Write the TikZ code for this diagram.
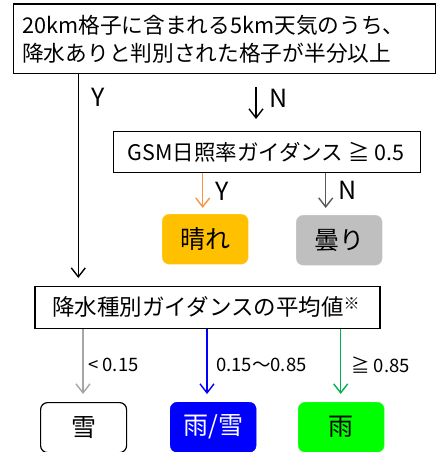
\documentclass[tikz,border=0pt]{standalone}
\usepackage{fontspec}
\setmainfont{Noto Sans CJK JP}
\usetikzlibrary{arrows.meta}
\definecolor{orangeA}{HTML}{F79646}
\definecolor{sunny}{HTML}{FFC000}
\definecolor{cloudy}{HTML}{BFBFBF}
\definecolor{darkgr}{HTML}{595959}
\definecolor{lightgr}{HTML}{A6A6A6}
\definecolor{greenA}{HTML}{00B050}
\definecolor{rainG}{HTML}{00FF00}
\tikzset{
  box/.style={draw=black, line width=1.2pt, fill=white, inner sep=0pt},
  res/.style={rounded corners=7pt, inner sep=0pt, minimum width=86pt, minimum height=50pt, font=\fontsize{25}{27}\selectfont},
  arr/.style={line width=1.4pt, -{Straight Barb[length=9pt,width=14pt,line width=1.4pt]}},
  yn/.style={font=\fontsize{25}{26}\selectfont, anchor=west, inner sep=0pt},
  thr/.style={font=\fontsize{18.5}{20}\selectfont, anchor=west, inner sep=0pt},
}
\begin{document}
\begin{tikzpicture}[x=1pt,y=-1pt]
\useasboundingbox (0,0) rectangle (437,452);
% top box
\node[box, minimum width=422pt, minimum height=69pt, anchor=north west] (top) at (12.7,3.5) {};
\node[anchor=west, inner sep=0pt, align=left, font=\fontsize{21.7}{28}\selectfont] (toptext) at (22,39) {20km格子に含まれる5km天気のうち、\\降水ありと判別された格子が半分以上};
% GSM box
\node[box, minimum width=307pt, minimum height=41pt, anchor=north west] (gsm) at (113,131) {};
\node[font=\fontsize{21.5}{22}\selectfont, inner sep=0pt] (gsmtext) at (266,152) {GSM日照率ガイダンス ≧ 0.5};
% results
\node[res, fill=sunny, draw=sunny!70!white, anchor=north west] (hare) at (162,214) {晴れ};
\node[res, fill=cloudy, draw=cloudy!70!white, anchor=north west] (kumori) at (296,215) {曇り};
% bottom box
\node[box, minimum width=345pt, minimum height=42pt, anchor=north west] (avg) at (34.3,286) {};
\node[font=\fontsize{22.5}{24}\selectfont, inner sep=0pt] (avgtext) at (206,307) {降水種別ガイダンスの平均値\raisebox{6pt}{\fontsize{16}{17}\selectfont ※}};
% bottom results
\node[res, draw=black, line width=1.2pt, fill=white, anchor=north west] (yuki) at (40,402) {雪};
\node[res, fill=blue, draw=blue, text=white, anchor=north west] (ameyuki) at (170,402) {雨/雪};
\node[res, fill=rainG, draw=rainG!80!white, anchor=north west] (ame) at (298,402) {雨};
% coordinates for arrows
\coordinate (yEnd) at (78.3,278);
\coordinate (nStart) at (256,87);
\coordinate (nEnd) at (256,119);
\coordinate (hY) at (202.7,208);
\coordinate (kN) at (325.7,208);
\coordinate (e1) at (83,394);
\coordinate (e2) at (207,394);
\coordinate (e3) at (340.7,394);
% arrows
\draw[arr, line width=1.3pt] (top.south -| yEnd) -- (yEnd);
\node[yn] (Y1) at (91,97) {Y};
\draw[arr, line width=1.3pt] (nStart) -- (nEnd);
\node[yn] (N1) at (269,98) {N};
\draw[arr, orangeA] (gsm.south -| hY) -- (hY);
\node[yn] (Y2) at (215,191) {Y};
\draw[arr, darkgr] (gsm.south -| kN) -- (kN);
\node[yn] (N2) at (338,190) {N};
% bottom arrows
\draw[arr, lightgr] (avg.south -| e1) -- (e1);
\node[thr] (t1) at (88,365) {< 0.15};
\draw[arr, blue] (avg.south -| e2) -- (e2);
\node[thr] (t2) at (216,365) {0.15〜0.85};
\draw[arr, greenA] (avg.south -| e3) -- (e3);
\node[thr] (t3) at (351,365) {≧ 0.85};
\end{tikzpicture}
\end{document}
